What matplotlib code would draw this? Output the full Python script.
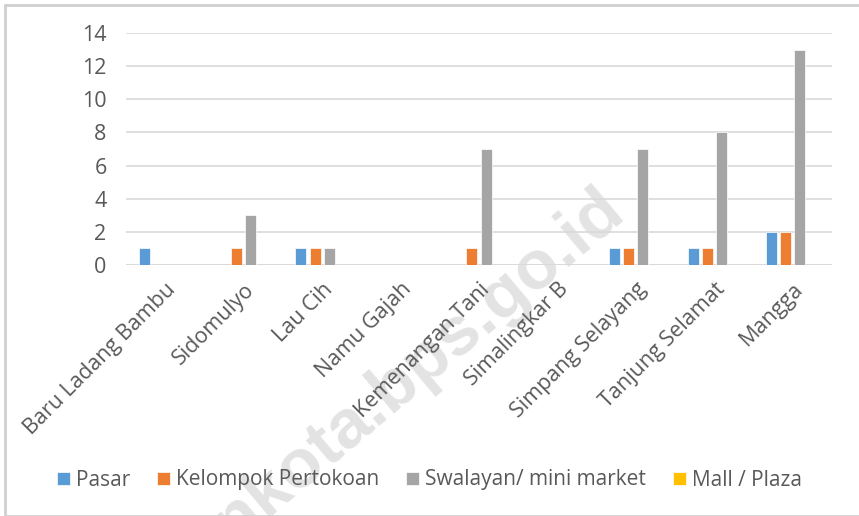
import matplotlib.pyplot as plt
import numpy as np
from matplotlib.patches import Rectangle

plt.rcParams.update({'font.family': ['Open Sans', 'DejaVu Sans']})

kelurahan = ["Baru Ladang Bambu", "Sidomulyo", "Lau Cih", "Namu Gajah",
             "Kemenangan Tani", "Simalingkar B", "Simpang Selayang",
             "Tanjung Selamat", "Mangga"]
pasar = [1, 0, 1, 0, 0, 0, 1, 1, 2]
pertokoan = [0, 1, 1, 0, 1, 0, 1, 1, 2]
swalayan = [0, 3, 1, 0, 7, 0, 7, 8, 13]
mall = [0, 0, 0, 0, 0, 0, 0, 0, 0]

series = [("Pasar", pasar, "#5b9bd5"),
          ("Kelompok Pertokoan", pertokoan, "#ed7d31"),
          ("Swalayan/ mini market", swalayan, "#a5a5a5"),
          ("Mall / Plaza", mall, "#ffc000")]

fig = plt.figure(figsize=(8.59, 5.16), dpi=100)
ax = fig.add_axes([126/859, 1-265/516, (832-126)/859, (265-33)/516])

# watermark, mostly running off the bottom edge
fig.text(627/859, 1-215/516, "medankota.bps.go.id", rotation=40, fontsize=50,
         fontweight='bold', color='#e3e3e3', ha='right', va='baseline',
         rotation_mode='anchor', zorder=-1, family='Liberation Sans')

x = np.arange(len(kelurahan))
slot = 0.18
w = 0.14
for i, (name, vals, col) in enumerate(series):
    ax.bar(x + (i - 1.5) * slot, vals, width=w, color=col, label=name,
           zorder=3, edgecolor='white', linewidth=0.5)

ax.set_xlim(-0.5, len(kelurahan) - 0.5)
ax.set_ylim(0, 14)
ax.set_yticks(range(0, 15, 2))
ax.yaxis.grid(True, color='#d9d9d9', linewidth=1.2, zorder=0)
ax.set_axisbelow(True)
for s in ax.spines.values():
    s.set_visible(False)
ax.axhline(0, color='#d9d9d9', linewidth=1.2, zorder=2)
ax.tick_params(axis='both', length=0, labelsize=15.5, colors='#595959')
ax.tick_params(axis='y', pad=14)
ax.set_xticks(x)
ax.set_xticklabels(kelurahan, rotation=45, ha='right', rotation_mode='anchor',
                   fontsize=15.5)
ax.tick_params(axis='x', pad=10)
ax.patch.set_alpha(0)

leg = fig.legend(loc='center', bbox_to_anchor=(0.5, 1-480/516), ncol=4,
                 frameon=False, fontsize=15, handlelength=0.6, handleheight=0.6,
                 handletextpad=0.3, columnspacing=1.3)
for t in leg.get_texts():
    t.set_color('#595959')

fig.patches.append(Rectangle((5/859, 0), 1, 1-5/516, transform=fig.transFigure,
                             fill=False, edgecolor='#d0d0d0', linewidth=2))

plt.savefig("out.png", dpi=100)
